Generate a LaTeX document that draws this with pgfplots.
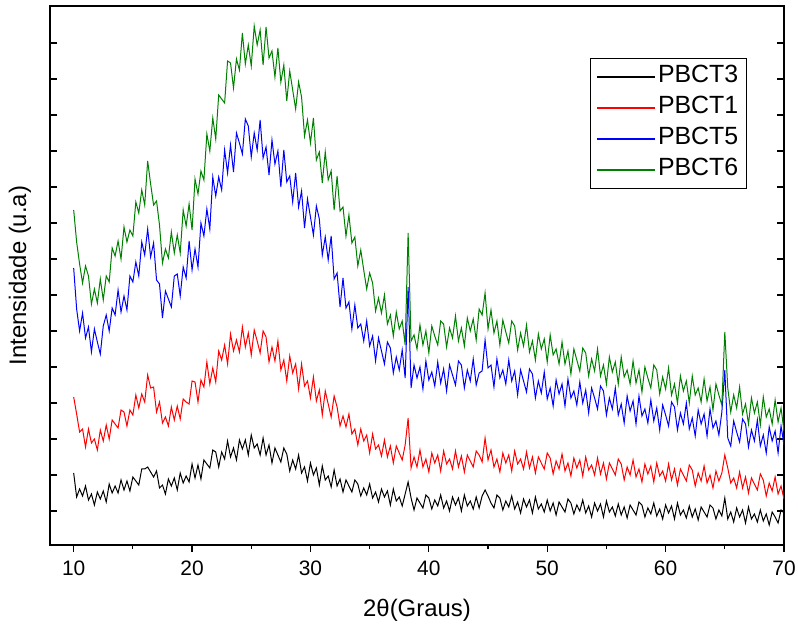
\documentclass[border=0pt]{standalone}
\usepackage{pgfplots}
\pgfplotsset{compat=1.18}
\usepackage{pgfplotstable}
\usepackage{fontspec}
\setmainfont{Liberation Sans}
\definecolor{og}{RGB}{0,128,0}
\pgfplotstableread{
x k r b g
10 72 148 277 335
10.25 48 131 236 303
10.5 56 113 214 281
10.75 49 116 232 262
11 59 98 207 279
11.25 45 116 218 269
11.5 51 102 193 241
11.75 40 106 216 256
12 53 95 203 242
12.25 46 115 191 266
12.5 54 104 219 245
12.75 43 120 230 269
13 61 106 214 263
13.25 52 125 237 297
13.5 59 121 230 289
13.75 52 117 255 304
14 65 135 233 286
14.25 55 133 249 318
14.5 64 119 235 303
14.75 54 135 269 315
15 68 130 263 309
15.25 64 150 283 343
15.5 60 137 269 332
15.75 76 151 303 355
16 76 143 290 340
16.25 78 170 316 384
16.5 73 157 288 361
16.75 68 158 302 340
17 74 133 265 344
17.25 57 143 261 320
17.5 60 122 227 282
17.75 51 128 254 296
18 66 119 246 287
18.25 59 138 238 313
18.5 67 125 269 292
18.75 55 139 271 310
19 72 126 249 292
19.25 62 146 278 335
19.5 69 143 267 319
19.75 63 141 304 341
20 81 164 275 315
20.25 67 163 296 366
20.5 80 143 278 351
20.75 66 165 322 374
21 85 158 309 365
21.25 81 183 336 411
21.5 77 161 316 394
21.75 95 177 368 427
22 93 163 349 406
22.25 78 194 368 450
22.5 93 185 355 446
22.75 86 200 395 442
23 104 181 372 484
23.25 88 211 400 482
23.5 97 194 373 457
23.75 85 205 412 486
24 105 193 402 475
24.25 96 218 391 512
24.5 105 198 426 481
24.75 90 212 419 500
25 110 190 388 479
25.25 97 215 412 519
25.5 101 204 395 500
25.75 90 192 425 515
26 107 214 387 480
26.25 90 208 398 518
26.5 100 183 370 487
26.75 82 198 405 494
27 97 184 381 468
27.25 90 204 394 497
27.5 83 175 358 463
27.75 97 185 395 480
28 91 164 363 444
28.25 74 189 369 474
28.5 85 172 343 455
28.75 76 181 372 436
29 90 156 338 463
29.25 72 181 354 448
29.5 78 159 317 409
29.75 64 164 346 425
30 82 147 328 402
30.25 70 168 310 427
30.5 77 144 339 385
30.75 60 155 326 393
31 79 130 290 362
31.25 65 154 308 393
31.5 69 141 285 365
31.75 58 128 309 374
32 75 149 266 335
32.25 59 138 272 369
32.5 66 119 238 334
32.75 53 129 267 338
33 65 118 237 309
33.25 59 131 243 330
33.5 53 111 216 302
33.75 65 116 240 308
34 61 100 217 279
34.25 49 116 221 295
34.5 57 104 204 275
34.75 50 110 224 256
35 61 92 199 272
35.25 47 111 209 262
35.5 53 96 184 234
35.75 43 100 207 247
36 56 89 194 232
36.25 48 105 181 250
36.5 54 88 203 221
36.75 40 99 197 230
37 56 82 172 209
37.25 44 99 188 233
37.5 48 92 175 216
37.75 39 85 195 224
38 51 100 167 200
38.25 63 127 258 312
38.5 47 77 157 204
38.75 35 88 180 210
39 47 78 167 196
39.25 42 95 178 220
39.5 37 78 156 200
39.75 50 86 184 214
40 47 73 165 192
40.25 36 92 173 219
40.5 45 82 159 209
40.75 39 90 183 200
41 50 74 162 224
41.25 37 94 176 221
41.5 44 81 154 198
41.75 34 86 180 217
42 48 76 170 207
42.25 40 94 160 229
42.5 47 78 184 204
42.75 34 89 180 217
43 50 73 157 199
43.25 39 90 175 227
43.5 44 84 164 214
43.75 36 78 186 226
44 48 94 160 205
44.25 37 90 172 236
44.5 49 83 174 230
44.75 55 107 205 252
45 49 85 177 216
45.25 42 95 180 235
45.5 37 78 158 212
45.75 50 86 186 224
46 47 73 167 200
46.25 35 92 175 225
46.5 44 82 161 213
46.75 38 90 185 202
47 49 74 164 224
47.25 36 94 174 219
47.5 43 81 150 195
47.75 32 86 175 212
48 46 76 164 199
48.25 38 93 153 220
48.5 45 77 176 193
48.75 32 88 171 204
49 48 72 147 185
49.25 36 88 164 211
49.5 41 82 152 196
49.75 33 76 173 206
50 45 92 146 183
50.25 34 87 157 210
50.5 42 71 139 190
50.75 30 84 165 196
51 43 76 151 181
51.25 38 91 161 203
51.5 33 74 139 181
51.75 46 82 166 194
52 42 69 147 171
52.25 31 87 154 196
52.5 40 77 140 185
52.75 34 85 163 174
53 45 69 142 197
53.25 32 88 155 192
53.5 39 75 132 169
53.75 28 80 157 186
54 42 70 147 174
54.25 34 87 136 196
54.5 41 71 159 169
54.75 28 82 154 180
55 44 66 130 161
55.25 33 82 147 188
55.5 38 76 136 173
55.75 29 70 157 183
56 41 86 130 161
56.25 30 81 141 188
56.5 38 65 122 168
56.75 27 78 149 175
57 40 70 134 161
57.25 35 85 144 184
57.5 30 68 121 162
57.75 43 76 149 175
58 40 63 129 153
58.25 28 81 136 178
58.5 37 71 122 167
58.75 31 79 145 157
59 42 63 124 180
59.25 29 82 137 175
59.5 36 69 115 151
59.75 26 74 140 168
60 40 64 130 156
60.25 32 81 119 177
60.5 39 65 143 150
60.75 26 76 138 161
61 42 60 115 142
61.25 30 76 132 169
61.5 35 70 121 154
61.75 27 64 142 164
62 39 80 116 142
62.25 28 75 127 169
62.5 36 59 109 150
62.75 25 72 135 157
63 38 64 121 143
63.25 33 79 131 166
63.5 28 62 109 144
63.75 40 70 136 158
64 37 57 117 135
64.25 26 74 124 161
64.5 35 64 110 150
64.75 29 72 133 140
65 47 90 175 213
65.25 26 77 107 157
65.5 33 62 99 133
65.75 23 67 124 150
66 37 57 113 137
66.25 28 73 103 158
66.5 35 57 126 131
66.75 22 68 121 141
67 38 52 98 121
67.25 26 67 115 147
67.5 31 61 104 132
67.75 23 55 125 143
68 35 71 99 120
68.25 24 65 110 148
68.5 31 49 92 128
68.75 20 62 118 136
69 33 54 104 121
69.25 28 68 114 145
69.5 22 51 92 123
69.75 35 59 119 137
70 32 46 100 114
}\xrd

\begin{document}
\begin{tikzpicture}
\useasboundingbox (-50bp,-82bp) rectangle (748bp,545bp);
\begin{axis}[
  at={(0bp,0bp)}, anchor=south west,
  scale only axis, width=734bp, height=539bp,
  xmin=8, xmax=70, ymin=0, ymax=539,
  xtick={10,20,...,70}, minor xtick={15,25,...,65},
  ytick={34,70,...,502}, yticklabels={},
  xtick pos=bottom, ytick pos=both,
  xtick align=outside, ytick align=inside,
  major tick length=7bp, minor tick length=4bp,
  axis line style={line width=1.6bp},
  every tick/.style={black, line width=1.2bp},
  tick label style={font=\fontsize{21}{25}\selectfont},
  /pgf/number format/assume math mode=true,
  xticklabel style={yshift=-5bp},
  xlabel={2θ(Graus)}, ylabel={Intensidade (u.a)},
  label style={font=\fontsize{24}{28}\selectfont},
  xlabel style={at={(axis description cs:0.5,-0.1206)}, anchor=center},
  ylabel style={at={(axis description cs:-0.0409,0.5)}, anchor=center},
  legend style={at={(0.736,0.9035)}, anchor=north west, draw=black, line width=0.8bp,
    font=\fontsize{25}{29}\selectfont, inner xsep=6bp, inner ysep=3bp,
    nodes={text height=19bp, text depth=8bp}},
  legend cell align=left,
  legend image code/.code={\draw[#1, line width=1.4bp] (0bp,0bp) -- (58bp,0bp);},
]
\addplot[black, line width=1bp] table[x=x,y=k]{\xrd};
\addlegendentry{PBCT3}
\addplot[red, line width=1bp] table[x=x,y=r]{\xrd};
\addlegendentry{PBCT1}
\addplot[blue, line width=1bp] table[x=x,y=b]{\xrd};
\addlegendentry{PBCT5}
\addplot[og, line width=1bp] table[x=x,y=g]{\xrd};
\addlegendentry{PBCT6}
\end{axis}
\end{tikzpicture}
\end{document}
